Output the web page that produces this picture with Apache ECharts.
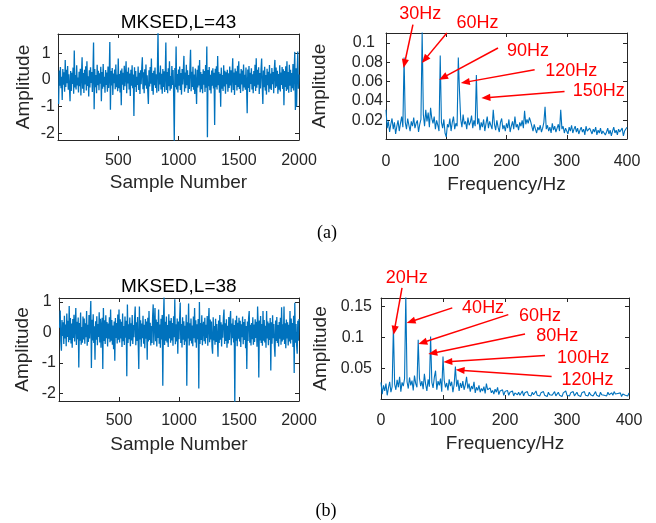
<!DOCTYPE html>
<html>
<head>
<meta charset="UTF-8">
<title></title>
<script src="https://cdn.jsdelivr.net/npm/echarts@6/dist/echarts.min.js"></script>
<style>html,body{margin:0;padding:0;background:#fff;}</style>
</head>
<body>
<div id="main" style="width:656px;height:523px;"></div>
<script type="text/javascript">
// MKSED,L=43 signal, one value read every 5 samples (5..2000)
var sigA = [
  -0.90, 0.35, -0.22, 0.48, -0.31, 0.12, -0.75, 0.41, -0.18, 0.29, -0.44, 0.75, -0.26, 0.38, -0.12, 0.52, -0.37, 0.21, -0.29, -0.80,
  0.33, -0.41, 0.27, -0.15, 0.46, -0.52, 1.10, -0.28, 0.18, -0.36, 0.55, -0.21, 0.09, -0.47, 0.31, -0.24, 0.42, -0.58, 0.20, 0.85,
  -0.33, 0.26, -0.49, 0.38, -0.17, 0.51, -0.40, 0.70, -0.23, 0.14, -0.62, 0.36, -0.28, 0.47, -0.11, 0.30, -0.45, 0.22, 1.40, -1.10,
  0.41, -0.27, 0.18, -0.50, 0.57, -0.20, 0.34, -0.39, 0.25, -0.14, 0.49, -0.80, 0.30, -0.33, 0.60, -0.25, 0.12, -0.48, 0.37, -0.19,
  0.28, -0.44, 0.50, -0.30, 0.16, 1.42, -1.12, 0.33, -0.21, 0.45, -0.56, 0.24, -0.12, 0.39, -0.35, 0.58, -0.27, 0.20, -0.42, 0.80,
  -0.31, 0.22, -0.47, 0.35, -0.95, 0.43, -0.18, 0.27, -0.38, 0.53, -0.24, 0.15, 0.70, -0.50, 0.31, -0.13, 0.46, -0.36, 0.24, -0.60,
  0.38, -0.22, 0.55, -0.31, 0.20, -1.35, 0.47, -0.26, 0.33, -0.45, 0.12, -0.19, 0.50, -0.38, 0.27, -0.53, 0.36, -0.16, 0.44, 0.85,
  -0.35, 0.29, -0.50, 0.40, -0.21, 0.58, -0.33, 0.17, -0.43, -0.90, 0.36, -0.25, 0.48, -0.14, 0.80, -0.41, 0.26, -0.55, 0.34, -0.20,
  0.46, -0.30, 0.21, -0.48, 0.37, 1.80, -0.42, 0.28, -0.17, 0.54, -0.36, 0.23, -0.52, 0.41, -0.26, 0.32, -0.45, 0.19, 1.40, -0.38,
  0.30, -0.50, 0.44, -0.24, 0.70, -0.40, 0.15, -0.33, 0.52, -0.19, 0.37, -0.58, -2.30, 0.45, -0.27, 1.25, -0.36, 0.22, -0.47, 0.39,
  -0.22, 0.50, -0.38, 0.26, -0.55, 0.41, -0.17, 0.33, 0.90, -0.44, 0.28, -0.31, 0.57, -0.20, 0.36, -0.49, 0.18, -0.34, 0.47, 1.13,
  -0.42, 0.31, -0.26, 0.49, -0.37, 0.20, -0.53, 0.43, -0.15, -0.90, 0.38, -0.28, 0.54, -0.21, 0.75, -0.46, 0.30, -0.35, 0.22, -0.50,
  0.40, -0.18, 0.33, -0.45, 0.56, -0.29, 1.25, -2.15, 0.37, -0.24, 0.48, -0.39, 0.19, -0.51, 0.35, -0.22, 0.44, -0.32, 0.27, -1.69,
  0.42, -0.27, 0.51, -0.36, 0.90, -0.20, 0.30, -0.48, 0.23, -1.00, 0.46, -0.33, 0.18, -0.41, 0.55, -0.25, 0.34, -0.52, 0.29, -0.16,
  0.38, -0.44, 0.25, -0.30, 0.50, -0.21, 0.36, -0.47, 0.20, 0.81, -0.38, 0.28, -0.56, 0.43, -0.19, 0.32, -0.40, 0.53, -0.26, 0.70,
  -0.34, 0.24, -0.49, 0.41, -0.17, 0.35, -0.42, 0.58, -0.28, 0.19, -0.37, 0.46, -0.23, -1.25, 0.39, -0.30, 0.52, -0.45, 0.27, -0.15,
  0.44, -0.36, 0.21, -0.50, 0.33, -0.24, 0.57, -0.41, 0.81, -0.29, 0.38, -0.18, 0.47, -0.53, 0.26, -0.32, 0.40, 0.80, -0.22, -0.90,
  0.35, -0.27, 0.49, -0.40, 0.18, -0.55, 0.42, -0.20, 0.31, -0.46, 0.56, -0.33, 0.24, -0.38, 0.45, -0.16, 0.30, -0.50, 0.39, 0.75,
  -0.30, 0.46, -0.25, 0.34, -0.52, 0.22, -0.37, 0.55, -0.43, 0.28, -0.19, 0.48, -0.34, 0.40, -0.95, 0.33, -0.26, 0.51, -0.41, 0.70,
  -0.36, 0.30, -0.48, 0.57, -0.22, 0.38, -0.45, 0.26, -0.31, 0.60, -0.40, 0.35, 1.05, -1.13, 0.44, -1.00, 0.29, 1.06, -0.33, 0.20
];
// MKSED,L=38 signal, same sampling
var sigB = [
  0.15, 0.72, -0.28, -0.60, 0.41, -0.12, 0.33, -0.38, 0.55, -0.20, 0.26, -0.45, 0.62, -0.15, 0.38, -0.32, 0.87, -0.25, 0.47, -0.36,
  0.29, -0.50, 0.44, -0.18, 0.58, -0.30, 0.21, 0.80, -0.41, 0.35, -0.22, 0.49, -1.15, 0.31, -0.27, 0.65, -0.40, 0.18, -0.34, 0.52,
  -0.23, 0.46, -0.37, 0.30, -0.16, 0.70, -0.44, 0.25, -0.31, 0.57, -0.20, 0.39, 1.03, -1.17, 0.42, -0.26, 0.60, -0.35, 0.20, -0.90,
  0.37, -0.24, 0.53, -0.42, 0.28, -0.15, 0.66, -0.33, 0.45, -0.50, 0.22, 0.48, -1.20, 0.80, -0.28, 0.40, -0.38, 0.56, -0.19, 0.34,
  -0.46, 0.29, -0.21, 0.50, -0.32, 0.75, -0.27, 0.41, -0.40, 0.23, -0.55, 0.36, -0.93, 0.47, -0.18, 0.31, -0.36, 0.59, -0.24, 0.75,
  -0.33, 0.43, -0.20, 0.35, -0.48, 0.62, -0.29, 0.21, -0.41, 0.52, -0.17, 0.38, -1.44, 0.92, -0.35, 0.27, -0.22, 0.49, -0.45, 0.30,
  -0.26, 0.57, -0.38, 0.24, -0.16, 0.46, 0.85, -0.42, 0.33, -0.28, 0.51, -0.34, -1.20, 0.85, -0.23, 0.40, -0.47, 0.29, -0.19, 0.55,
  -0.37, 0.25, -0.52, 0.44, -0.21, 0.36, -0.90, 0.48, -0.30, 0.70, -0.25, 0.32, -0.43, 0.21, -0.35, 0.50, 0.92, -0.40, 0.28, 0.80,
  -0.29, 0.42, -0.46, 0.34, -0.18, 0.75, -0.37, 0.26, -0.50, 0.45, -0.23, 0.57, -1.75, 0.30, 1.15, -0.41, 0.35, -0.27, 0.52, -0.33,
  0.24, -0.48, 0.60, -0.20, 0.38, -0.34, 0.47, -0.26, 0.31, -0.44, 0.53, -0.16, 1.09, -0.39, 0.27, -0.30, 0.46, -0.70, 0.36, -0.22,
  0.41, 0.98, -0.35, 0.28, -0.49, 0.50, -0.24, 0.37, -0.41, 0.22, -0.30, 0.58, -1.75, 0.33, -0.20, 0.95, -0.43, 0.30, -0.27, 0.46,
  -0.36, 0.23, -0.45, 0.52, -0.19, 0.80, -0.33, 0.40, -0.50, 0.27, -0.22, 0.44, -1.84, 1.00, -0.38, 0.31, -0.25, 0.56, -0.42, 0.20,
  0.35, -0.29, 0.48, -0.37, 0.25, -0.18, 0.54, -0.44, 0.30, 0.80, -0.32, 0.42, -0.23, 0.36, -0.47, -0.70, 0.50, -0.26, 0.21, -0.40,
  0.45, -0.31, 0.28, -0.20, -0.80, 0.39, -0.35, 0.57, -0.24, 0.33, -0.46, 0.26, -0.17, 0.49, 0.75, -0.38, 0.30, -0.28, 0.43, -0.50,
  0.22, -0.36, 0.51, -0.25, 0.37, 0.70, -0.42, 0.29, -0.19, 0.46, -0.33, 0.24, -2.30, 0.40, -0.27, 0.55, -0.45, 0.32, -0.21, 0.48,
  -0.30, 0.38, -0.48, 0.27, -0.16, 0.52, -0.39, 0.34, -0.25, 0.44, -0.52, 0.21, -1.20, 0.36, -0.28, 0.47, 0.70, -0.34, 0.25, -0.43,
  0.31, -0.22, 0.50, -0.40, 0.26, -0.31, 0.43, -0.18, 0.35, -0.47, 0.85, 0.20, -1.48, 0.39, -0.26, 0.54, -0.35, 0.28, -0.44, 0.70,
  -0.27, 0.41, -0.33, 0.22, -0.50, 0.70, -0.20, 0.36, -0.42, 0.30, -0.25, 0.47, -1.25, 0.33, -0.37, 0.56, -0.19, 0.28, -0.45, -0.80,
  0.39, -0.28, 0.51, -0.35, 0.24, -0.46, 0.34, -0.21, 0.48, -0.40, 0.83, -0.30, 0.27, -0.24, 0.85, -0.38, 0.30, -0.52, 0.42, -0.20,
  0.33, -0.43, 0.25, -0.30, 0.70, -0.36, 0.46, -0.24, 0.31, -0.48, 0.55, -1.33, 0.97, -0.34, 0.28, -0.41, -0.70, 0.38, -0.27, 0.44
];
// envelope spectra, 0..400 Hz every 2 Hz
var specA = [
  0.031, 0.012, 0.019, 0.008, 0.016, 0.022, 0.011, 0.018, 0.006, 0.014,
  0.020, 0.009, 0.017, 0.024, 0.013, 0.085, 0.018, 0.011, 0.022, 0.015,
  0.009, 0.019, 0.014, 0.023, 0.012, 0.017, 0.020, 0.008, 0.016, 0.021,
  0.112, 0.026, 0.014, 0.031, 0.019, 0.028, 0.013, 0.033, 0.022, 0.017,
  0.024, 0.011, 0.020, 0.015, 0.009, 0.087, 0.018, 0.012, 0.021, 0.007,
  0.003, 0.016, 0.013, 0.022, 0.009, 0.018, 0.024, 0.011, 0.017, 0.014,
  0.085, 0.050, 0.021, 0.013, 0.026, 0.016, 0.019, 0.011, 0.023, 0.015,
  0.018, 0.025, 0.012, 0.020, 0.014, 0.067, 0.016, 0.022, 0.010, 0.018,
  0.013, 0.021, 0.009, 0.017, 0.024, 0.012, 0.019, 0.015, 0.011, 0.031,
  0.016, 0.010, 0.020, 0.013, 0.008, 0.018, 0.022, 0.011, 0.015, 0.009,
  0.017, 0.012, 0.021, 0.008, 0.014, 0.019, 0.011, 0.024, 0.013, 0.016,
  0.010, 0.018, 0.014, 0.020, 0.012, 0.030, 0.016, 0.021, 0.017, 0.023,
  0.019, 0.014, 0.009, 0.016, 0.011, 0.007, 0.013, 0.010, 0.015, 0.008,
  0.012, 0.018, 0.034, 0.011, 0.015, 0.009, 0.013, 0.007, 0.017, 0.010,
  0.014, 0.008, 0.012, 0.016, 0.009, 0.031, 0.011, 0.014, 0.007, 0.012,
  0.010, 0.006, 0.013, 0.009, 0.015, 0.007, 0.011, 0.014, 0.008, 0.012,
  0.006, 0.010, 0.013, 0.008, 0.011, 0.005, 0.014, 0.009, 0.007, 0.012,
  0.009, 0.006, 0.011, 0.008, 0.013, 0.005, 0.010, 0.007, 0.012, 0.006,
  0.009, 0.011, 0.005, 0.008, 0.012, 0.006, 0.010, 0.004, 0.009, 0.013,
  0.007, 0.010, 0.005, 0.011, 0.008, 0.006, 0.012, 0.004, 0.009, 0.007,
  0.013
];
var specB = [
  0.027, 0.008, 0.022, 0.013, 0.025, 0.006, 0.018, 0.028, 0.011, 0.020,
  0.118, 0.024, 0.015, 0.031, 0.019, 0.036, 0.012, 0.027, 0.021, 0.033,
  0.170, 0.028, 0.017, 0.035, 0.022, 0.030, 0.014, 0.038, 0.025, 0.019,
  0.096, 0.034, 0.021, 0.029, 0.016, 0.041, 0.024, 0.013, 0.032, 0.020,
  0.1016, 0.027, 0.018, 0.035, 0.046, 0.015, 0.029, 0.022, 0.033, 0.012,
  0.069, 0.030, 0.019, 0.026, 0.014, 0.032, 0.021, 0.028, 0.011, 0.024,
  0.0527, 0.020, 0.031, 0.013, 0.026, 0.018, 0.029, 0.015, 0.023, 0.036,
  0.017, 0.025, 0.012, 0.021, 0.016, 0.028, 0.010, 0.019, 0.014, 0.022,
  0.011, 0.017, 0.013, 0.020, 0.009, 0.025, 0.015, 0.012, 0.018, 0.010,
  0.014, 0.008, 0.016, 0.011, 0.019, 0.007, 0.013, 0.010, 0.015, 0.006,
  0.012, 0.009, 0.014, 0.006, 0.011, 0.008, 0.013, 0.005, 0.010, 0.012,
  0.007, 0.011, 0.006, 0.009, 0.013, 0.005, 0.010, 0.008, 0.012, 0.006,
  0.009, 0.005, 0.011, 0.007, 0.010, 0.013, 0.006, 0.009, 0.005, 0.010,
  0.008, 0.012, 0.006, 0.009, 0.004, 0.011, 0.007, 0.010, 0.006, 0.009,
  0.012, 0.005, 0.008, 0.011, 0.006, 0.009, 0.004, 0.010, 0.007, 0.013,
  0.006, 0.009, 0.005, 0.010, 0.007, 0.012, 0.005, 0.008, 0.011, 0.006,
  0.009, 0.004, 0.010, 0.007, 0.012, 0.006, 0.008, 0.005, 0.011, 0.007,
  0.010, 0.005, 0.008, 0.012, 0.006, 0.009, 0.004, 0.011, 0.007, 0.010,
  0.006, 0.009, 0.005, 0.011, 0.007, 0.004, 0.010, 0.006, 0.012, 0.008,
  0.005, 0.009, 0.006, 0.010, 0.004, 0.008, 0.011, 0.006, 0.009, 0.005,
  0.010
];
var sampleStep = 5;
var freqStep = 2;
var sampleTicks = [500, 1000, 1500, 2000];
var sigTicks = [-2, -1, 0, 1];
var freqTicks = [0, 100, 200, 300, 400];
var specTicksA = [0.02, 0.04, 0.06, 0.08, 0.1];
var specTicksB = [0.05, 0.1, 0.15];
var titles = ['MKSED,L=43', 'MKSED,L=38'];

var font = 'Liberation Sans, Arial, sans-serif';
var ink = '#262626';
var blue = '#0072BD';
var red = '#ff0000';

function toPairs(vals, step, first) {
	return vals.map(function(v, i) { return [first + i * step, v]; });
}

// bottom + top x axes (MATLAB box with inner ticks)
function xAxes(g, min, max, ticks, name, gap, margin) {
	var common = {
		gridIndex: g, type: 'value', min: min, max: max,
		splitLine: { show: false },
		axisLine: { onZero: false, lineStyle: { color: ink, width: 1 } },
		axisTick: { inside: true, length: 4, customValues: ticks, lineStyle: { color: ink } }
	};
	return [
		Object.assign({}, common, {
			position: 'bottom', name: name, nameLocation: 'middle', nameGap: gap,
			nameTextStyle: { fontFamily: font, fontSize: 19, color: ink },
			axisLabel: {
				customValues: ticks, margin: margin, fontFamily: font, fontSize: 16, color: ink,
				formatter: function(v) { return String(v); }
			}
		}),
		Object.assign({}, common, { position: 'top', axisLabel: { show: false } })
	];
}

// left + right y axes; short labels keep a trailing pad like the original
function yAxes(g, min, max, ticks, gap, margin, padded, pad) {
	var common = {
		gridIndex: g, type: 'value', min: min, max: max,
		splitLine: { show: false },
		axisLine: { onZero: false, lineStyle: { color: ink, width: 1 } },
		axisTick: { inside: true, length: 4, customValues: ticks, lineStyle: { color: ink } }
	};
	return [
		Object.assign({}, common, {
			position: 'left', name: 'Amplitude', nameLocation: 'middle', nameGap: gap,
			nameTextStyle: { fontFamily: font, fontSize: 19, color: ink },
			axisLabel: {
				customValues: ticks, margin: margin, fontFamily: font, fontSize: 16, color: ink,
				formatter: function(v) {
					var s = String(v);
					return padded.indexOf(v) >= 0 ? s + pad : s;
				}
			}
		}),
		Object.assign({}, common, { position: 'right', axisLabel: { show: false } })
	];
}

var chart = echarts.init(document.getElementById('main'), null, { renderer: 'canvas' });

var option = {
	backgroundColor: '#fff',
	animation: false,
	grid: [
		{ left: 58, top: 34, width: 241, height: 106 },
		{ left: 386, top: 33, width: 241, height: 106 },
		{ left: 59, top: 298, width: 240, height: 103 },
		{ left: 381, top: 298, width: 248, height: 101 }
	],
	xAxis: [].concat(
		xAxes(0, 0, 2000, sampleTicks, 'Sample Number', 33, 13),
		xAxes(1, 0, 400, freqTicks, 'Frequency/Hz', 36, 15),
		xAxes(2, 0, 2000, sampleTicks, 'Sample Number', 34, 12),
		xAxes(3, 0, 400, freqTicks, 'Frequency/Hz', 35, 14)
	),
	yAxis: [].concat(
		yAxes(0, -2.25, 1.72, sigTicks, 25, 3, [0, 1], ' '),
		yAxes(1, 0.0008, 0.1103, specTicksA, 57, 3, [0.1], '\u2002'),
		yAxes(2, -2.25, 1.13, sigTicks, 27, 3, [0, 1], ' '),
		yAxes(3, 0, 0.164, specTicksB, 51, 9, [0.1], '\u2002')
	),
	series: [
		{ data: toPairs(sigA, sampleStep, sampleStep), xAxisIndex: 0, yAxisIndex: 0, lw: 1.3 },
		{ data: toPairs(specA, freqStep, 0), xAxisIndex: 2, yAxisIndex: 2, lw: 1.1 },
		{ data: toPairs(sigB, sampleStep, sampleStep), xAxisIndex: 4, yAxisIndex: 4, lw: 1.3 },
		{ data: toPairs(specB, freqStep, 0), xAxisIndex: 6, yAxisIndex: 6, lw: 1.1 }
	].map(function(s) {
		return {
			type: 'line', showSymbol: false, silent: true, clip: true,
			data: s.data, xAxisIndex: s.xAxisIndex, yAxisIndex: s.yAxisIndex,
			lineStyle: { color: blue, width: s.lw }
		};
	})
};
chart.setOption(option);

// harmonic call-outs, placed in each spectrum's data units
var notesA = [
	{ t: '30Hz', tip: [29.1, 0.0741], tail: [44.7, 0.1189], at: [56.8, 0.1301] },
	{ t: '60Hz', tip: [59.6, 0.0793], tail: [101, 0.1103], at: [152, 0.1203] },
	{ t: '90Hz', tip: [88.2, 0.062], tail: [185.9, 0.0948], at: [235.6, 0.0913] },
	{ t: '120Hz', tip: [124.2, 0.0586], tail: [246.7, 0.0724], at: [307.3, 0.0706] },
	{ t: '150Hz', tip: [158.3, 0.0431], tail: [296.3, 0.0499], at: [353.1, 0.0499] }
];
var notesB = [
	{ t: '20Hz', tip: [20.3, 0.1044], tail: [33.9, 0.1806], at: [41.6, 0.1969] },
	{ t: '40Hz', tip: [41.3, 0.1235], tail: [115, 0.148], at: [164.7, 0.148] },
	{ t: '60Hz', tip: [60.2, 0.0892], tail: [205.3, 0.137], at: [256.6, 0.1343] },
	{ t: '80Hz', tip: [76.3, 0.0729], tail: [232.3, 0.1055], at: [284.4, 0.1028] },
	{ t: '100Hz', tip: [100.5, 0.0599], tail: [264.5, 0.0706], at: [326, 0.0664] },
	{ t: '120Hz', tip: [120.3, 0.0473], tail: [275.2, 0.0364], at: [333.1, 0.031] }
];

function label(x, y, text, size, color, family) {
	return {
		type: 'text', x: x, y: y, silent: true, z: 100,
		style: {
			text: text, fill: color, fontSize: size, fontFamily: family || font,
			align: 'center', verticalAlign: 'middle',
			textAlign: 'center', textVerticalAlign: 'middle'
		}
	};
}

var gfx = [];
function addNotes(notes, axisIdx) {
	var finder = { xAxisIndex: axisIdx, yAxisIndex: axisIdx };
	notes.forEach(function(n) {
		var a = chart.convertToPixel(finder, n.tail);
		var b = chart.convertToPixel(finder, n.tip);
		var dx = b[0] - a[0], dy = b[1] - a[1];
		var len = Math.sqrt(dx * dx + dy * dy);
		var ux = dx / len, uy = dy / len;
		var hl = 9, hw = 3.6;
		var bx = b[0] - ux * hl, by = b[1] - uy * hl;
		gfx.push({
			type: 'line', silent: true, z: 100,
			shape: { x1: a[0], y1: a[1], x2: bx + ux, y2: by + uy },
			style: { stroke: red, lineWidth: 1.5 }
		});
		gfx.push({
			type: 'polygon', silent: true, z: 100,
			shape: { points: [[b[0], b[1]], [bx - uy * hw, by + ux * hw], [bx + uy * hw, by - ux * hw]] },
			style: { fill: red }
		});
		var p = chart.convertToPixel(finder, n.at);
		gfx.push(label(p[0], p[1], n.t, 18, red));
	});
}
addNotes(notesA, 2);
addNotes(notesB, 6);

gfx.push(label(178.5, 22.5, titles[0], 19, '#000'));
gfx.push(label(178.8, 286.3, titles[1], 19, '#000'));
gfx.push(label(327, 233, '(a)', 18, '#000', 'Liberation Serif, Times New Roman, serif'));
gfx.push(label(326, 511, '(b)', 18, '#000', 'Liberation Serif, Times New Roman, serif'));

chart.setOption({ graphic: gfx });
</script>
</body>
</html>
